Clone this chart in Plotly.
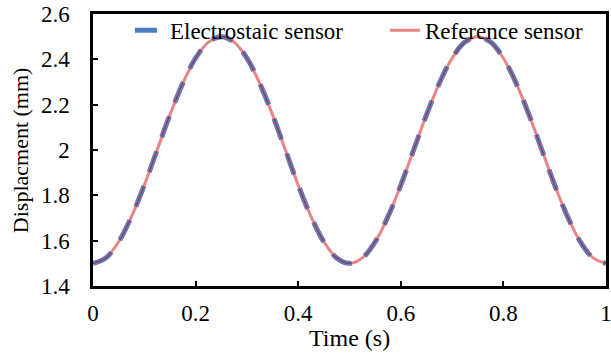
import plotly.graph_objects as go

# Time samples (s)
time_s = [0.000, 0.025, 0.050, 0.075, 0.100, 0.125, 0.150, 0.175, 0.200, 0.225,
          0.250, 0.275, 0.300, 0.325, 0.350, 0.375, 0.400, 0.425, 0.450, 0.475,
          0.500, 0.525, 0.550, 0.575, 0.600, 0.625, 0.650, 0.675, 0.700, 0.725,
          0.750, 0.775, 0.800, 0.825, 0.850, 0.875, 0.900, 0.925, 0.950, 0.975,
          1.000]

# Displacement measured by the electrostatic sensor (mm)
electrostatic_mm = [1.500, 1.524, 1.595, 1.706, 1.845, 2.000, 2.155, 2.294, 2.405, 2.476,
                    2.500, 2.476, 2.405, 2.294, 2.155, 2.000, 1.845, 1.706, 1.595, 1.524,
                    1.500, 1.524, 1.595, 1.706, 1.845, 2.000, 2.155, 2.294, 2.405, 2.476,
                    2.500, 2.476, 2.405, 2.294, 2.155, 2.000, 1.845, 1.706, 1.595, 1.524,
                    1.500]

# Displacement measured by the reference sensor (mm)
reference_mm = [1.500, 1.524, 1.595, 1.706, 1.845, 2.000, 2.155, 2.294, 2.405, 2.476,
                2.500, 2.476, 2.405, 2.294, 2.155, 2.000, 1.845, 1.706, 1.595, 1.524,
                1.500, 1.524, 1.595, 1.706, 1.845, 2.000, 2.155, 2.294, 2.405, 2.476,
                2.500, 2.476, 2.405, 2.294, 2.155, 2.000, 1.845, 1.706, 1.595, 1.524,
                1.500]

x_ticks = [0, 0.2, 0.4, 0.6, 0.8, 1]
x_tick_text = ["0", "0.2", "0.4", "0.6", "0.8", "1"]
y_ticks = [1.4, 1.6, 1.8, 2.0, 2.2, 2.4, 2.6]
y_tick_text = ["1.4", "1.6", "1.8", "2", "2.2", "2.4", "2.6"]

FONT = "Times New Roman"
BLUE = "#4a7dc0"
RED = "rgba(230,120,120,0.9)"
CORE = "#64508c"
DASH = "22px,15px"

fig = go.Figure()
fig.add_trace(go.Scatter(
    x=time_s, y=electrostatic_mm, mode="lines", name="Electrostaic sensor",
    line=dict(color=BLUE, width=5, dash=DASH, shape="spline"),
))
fig.add_trace(go.Scatter(
    x=time_s, y=reference_mm, mode="lines", name="Reference sensor",
    line=dict(color=RED, width=3, shape="spline"),
))
# darker core where the dashed trace overlaps the reference line
fig.add_trace(go.Scatter(
    x=time_s, y=electrostatic_mm, mode="lines", showlegend=False, hoverinfo="skip",
    line=dict(color=CORE, width=2, dash=DASH, shape="spline"),
))

axis_common = dict(
    showline=True, linecolor="black", linewidth=2.5, mirror=True,
    ticks="inside", ticklen=5, tickwidth=2, tickcolor="black",
    showgrid=False, zeroline=False, ticklabeloverflow="allow",
    tickfont=dict(family=FONT, size=23, color="black"),
)

fig.update_layout(
    width=611, height=354,
    margin=dict(l=93, r=5, t=14, b=68, autoexpand=False),
    paper_bgcolor="white", plot_bgcolor="white",
    font=dict(family=FONT, color="black"),
    showlegend=True,
    legend=dict(
        orientation="h", x=0.072, y=0.94, xanchor="left", yanchor="middle",
        bgcolor="rgba(255,255,255,0)", borderwidth=0,
        font=dict(family=FONT, size=23, color="black"),
        traceorder="normal", entrywidth=210,
    ),
    xaxis=dict(range=[0, 1], tickvals=x_ticks, ticktext=x_tick_text,
               ticklabelstandoff=5, **axis_common),
    yaxis=dict(range=[1.4, 2.6], tickvals=y_ticks, ticktext=y_tick_text,
               ticklabelstandoff=16, **axis_common),
    annotations=[
        dict(text="Time (s)", xref="paper", yref="paper", x=0.5, y=-0.19,
             xanchor="center", yanchor="middle", showarrow=False,
             font=dict(family=FONT, size=24, color="black")),
        dict(text="Displacment (mm)", xref="paper", yref="paper", x=-0.142, y=0.5,
             xanchor="center", yanchor="middle", textangle=-90, showarrow=False,
             font=dict(family=FONT, size=22, color="black")),
    ],
)

fig.write_html("out.html")
